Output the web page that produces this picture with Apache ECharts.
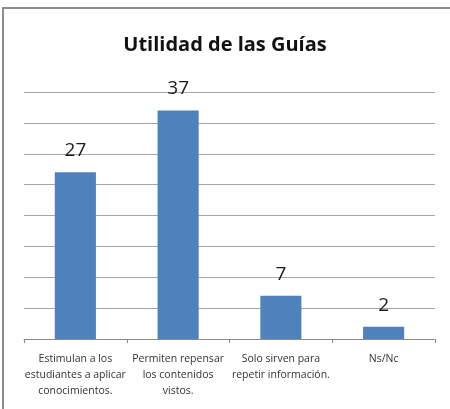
<!DOCTYPE html>
<html>
<head>
<meta charset="utf-8">
<script src="https://cdn.jsdelivr.net/npm/echarts@6/dist/echarts.min.js"></script>
<style>
  html, body { margin: 0; padding: 0; background: #fff; }
  #frame { position: absolute; left: 2px; top: 7px; width: 448px; height: 402px;
           border-top: 2px solid #8c8c8c; border-left: 2px solid #8c8c8c; }
  #chart { position: absolute; left: 0; top: 0; width: 450px; height: 409px; }
</style>
</head>
<body>
<div id="frame"></div>
<div id="chart"></div>
<script>
// categorias y valores
const categorias = [
  'Estimulan a los\nestudiantes a aplicar\nconocimientos.',
  'Permiten repensar\nlos contenidos\nvistos.',
  'Solo sirven para\nrepetir información.',
  'Ns/Nc'
]
const valores = [27, 37, 7, 2]
const titulo = 'Utilidad de las Guías'

const chart = echarts.init(document.getElementById('chart'))
chart.setOption({
  animation: false,
  title: {
    text: titulo,
    left: 'center',
    top: 30,
    textStyle: {
      fontFamily: 'Open Sans',
      fontWeight: 'bold',
      fontSize: 20,
      color: '#111'
    }
  },
  grid: {
    left: 24,
    right: 15,
    top: 92,
    bottom: 70
  },
  xAxis: {
    type: 'category',
    data: categorias,
    axisLine: { lineStyle: { color: '#8c8c8c', width: 1 } },
    axisTick: { show: true, length: 4, lineStyle: { color: '#8c8c8c' } },
    axisLabel: {
      interval: 0,
      margin: 12,
      fontFamily: 'Open Sans',
      fontSize: 10.5,
      lineHeight: 16,
      color: '#333'
    }
  },
  yAxis: {
    type: 'value',
    min: 0,
    max: 40,
    interval: 5,
    axisLine: { show: false },
    axisTick: { show: false },
    axisLabel: { show: false },
    splitLine: { lineStyle: { color: '#a6a6a6', width: 1 } }
  },
  series: [{
    type: 'bar',
    data: valores,
    barWidth: '40%',
    itemStyle: { color: '#4f81bd' },
    label: {
      show: true,
      position: 'top',
      distance: 12,
      fontFamily: 'Open Sans',
      fontSize: 19,
      color: '#1a1a1a'
    }
  }]
})
</script>
</body>
</html>
